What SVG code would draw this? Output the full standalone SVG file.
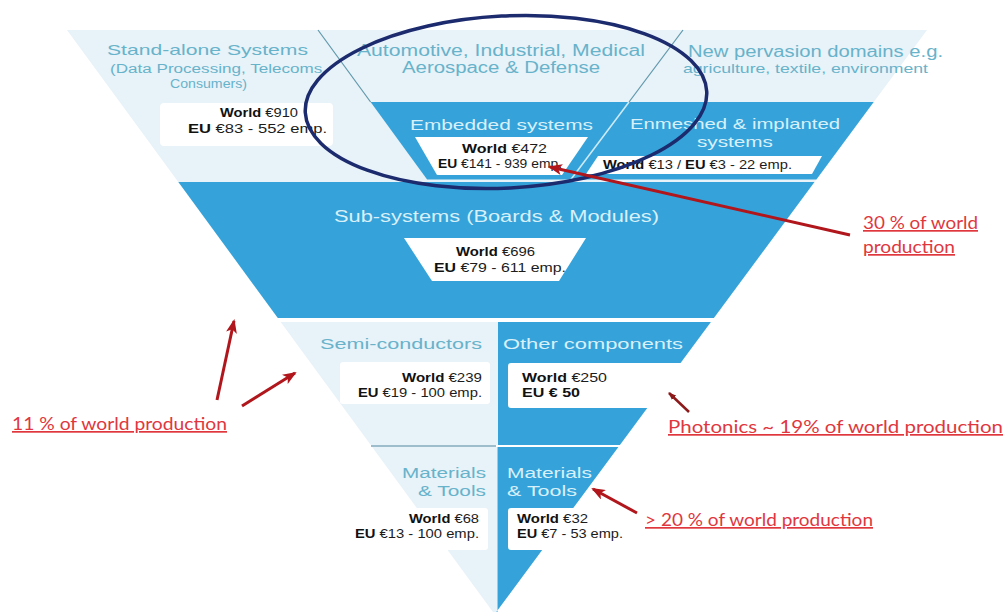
<svg xmlns="http://www.w3.org/2000/svg" width="1005" height="612" viewBox="0 0 1005 612">
  <defs>
    <style>
      .light { fill: #e7f2f9; }
      .blue { fill: #35a3d9; }
      .box { fill: #ffffff; }
      .divider { stroke: #5f98aa; stroke-width: 1.2; fill: none; }
      .divider-inv { stroke: #cdeaf7; stroke-width: 1.6; fill: none; }
      .sep { stroke: #9dbdcd; stroke-width: 2; }
      .head { font-family: "Liberation Sans", Arial, sans-serif; fill: #68b2ca; }
      .head-inv { font-family: "Liberation Sans", Arial, sans-serif; fill: #d8f0fa; }
      .num { font-family: "Liberation Sans", Arial, sans-serif; font-size: 13px; fill: #1c1c1c; }
      .b { font-weight: 700; fill: #111; }
      .note { font-family: Lato, "Liberation Sans", sans-serif; font-size: 17px; fill: #e0373e; text-decoration: underline; }
      .arrow { stroke: #b0161b; stroke-width: 3; fill: none; }
    </style>
    <marker id="arrowhead" viewBox="0 0 14 11" refX="12" refY="5.5" markerWidth="14" markerHeight="11" markerUnits="userSpaceOnUse" orient="auto">
      <path d="M0,0 L14,5.5 L0,11 L3.5,5.5 z" fill="#b0161b"/>
    </marker>
    <marker id="tinyhead" viewBox="0 0 8 6" refX="7" refY="3" markerWidth="8" markerHeight="6" markerUnits="userSpaceOnUse" orient="auto">
      <path d="M0,0 L8,3 L0,6 z" fill="#8c1a1a"/>
    </marker>
  </defs>

  <rect width="1005" height="612" fill="#ffffff"/>

  <!-- top tier: application domains -->
  <g id="application-domains">
    <polygon class="light" points="67,30 927,30 814.5,182 178.3,182"/>
    <line class="divider" x1="318" y1="30" x2="370.6" y2="102"/>
    <line class="divider" x1="683" y1="30" x2="629" y2="102"/>
  </g>

  <g id="standalone-systems">
    <rect class="box" x="160" y="103" width="173" height="43" rx="4"/>
    <text class="head" x="107" y="55" font-size="15" textLength="201" lengthAdjust="spacingAndGlyphs">Stand-alone Systems</text>
    <text class="head" x="110" y="73" font-size="12.5" textLength="217" lengthAdjust="spacingAndGlyphs">(Data Processing, Telecoms,</text>
    <text class="head" x="170" y="88" font-size="12.5" textLength="77" lengthAdjust="spacingAndGlyphs">Consumers)</text>
    <text class="num" x="220" y="117" textLength="78" lengthAdjust="spacingAndGlyphs"><tspan class="b">World</tspan> €910</text>
    <text class="num" x="188" y="133" textLength="139" lengthAdjust="spacingAndGlyphs"><tspan class="b">EU</tspan> €83 - 552 emp.</text>
  </g>

  <g id="automotive-domain">
    <text class="head" x="357" y="56" font-size="16" textLength="288" lengthAdjust="spacingAndGlyphs">Automotive, Industrial, Medical</text>
    <text class="head" x="402" y="73" font-size="16" textLength="198" lengthAdjust="spacingAndGlyphs">Aerospace &amp; Defense</text>
  </g>

  <g id="pervasion-domain">
    <text class="head" x="688" y="57" font-size="16" textLength="255" lengthAdjust="spacingAndGlyphs">New pervasion domains e.g.</text>
    <text class="head" x="683" y="73" font-size="13" textLength="245" lengthAdjust="spacingAndGlyphs">agriculture, textile, environment</text>
  </g>

  <!-- second tier: embedded / enmeshed -->
  <g id="embedded-systems">
    <polygon class="blue" points="370.6,102 873.7,102 816.4,179.5 427.1,179.5"/>
    <line class="divider-inv" x1="629" y1="102" x2="570.5" y2="180"/>
    <polygon class="box" points="415,137 588,137 562,175 437,175"/>
    <text class="head-inv" x="410" y="130" font-size="15" textLength="183" lengthAdjust="spacingAndGlyphs">Embedded systems</text>
    <text class="num" x="462" y="153" textLength="85" lengthAdjust="spacingAndGlyphs"><tspan class="b">World</tspan> €472</text>
    <text class="num" x="438" y="168" textLength="124" lengthAdjust="spacingAndGlyphs"><tspan class="b">EU</tspan> €141 - 939 emp.</text>
  </g>

  <g id="enmeshed-systems">
    <polygon class="box" points="598,156 822,156 812,174 586,174"/>
    <text class="head-inv" x="630" y="129" font-size="15" textLength="210" lengthAdjust="spacingAndGlyphs">Enmeshed &amp; implanted</text>
    <text class="head-inv" x="697" y="147" font-size="15" textLength="76" lengthAdjust="spacingAndGlyphs">systems</text>
    <text class="num" x="603" y="169" textLength="189" lengthAdjust="spacingAndGlyphs"><tspan class="b">World</tspan> €13 / <tspan class="b">EU</tspan> €3 - 22 emp.</text>
  </g>

  <!-- third tier: sub-systems -->
  <g id="sub-systems">
    <polygon class="blue" points="178.3,182 814.5,182 713.9,318 277.8,318"/>
    <polygon class="box" points="404,238 586,238 559,281 432,281"/>
    <text class="head-inv" x="334" y="222" font-size="16" textLength="325" lengthAdjust="spacingAndGlyphs">Sub-systems (Boards &amp; Modules)</text>
    <text class="num" x="456" y="256" textLength="79" lengthAdjust="spacingAndGlyphs"><tspan class="b">World</tspan> €696</text>
    <text class="num" x="434" y="272" textLength="132" lengthAdjust="spacingAndGlyphs"><tspan class="b">EU</tspan> €79 - 611 emp.</text>
  </g>

  <!-- fourth tier: components -->
  <g id="semi-conductors">
    <polygon class="light" points="280.7,322 498,322 498,445 370.8,445"/>
    <rect class="box" x="340" y="362" width="150" height="42" rx="3"/>
    <text class="head" x="320" y="349" font-size="15" textLength="162" lengthAdjust="spacingAndGlyphs">Semi-conductors</text>
    <text class="num" x="402" y="382" textLength="80" lengthAdjust="spacingAndGlyphs"><tspan class="b">World</tspan> €239</text>
    <text class="num" x="358" y="397" textLength="124" lengthAdjust="spacingAndGlyphs"><tspan class="b">EU</tspan> €19 - 100 emp.</text>
    <line class="sep" x1="371" y1="446" x2="496" y2="446"/>
  </g>

  <g id="other-components">
    <polygon class="blue" points="498,322 710.9,322 619.9,445 498,445"/>
    <rect class="box" x="508" y="363" width="200" height="45" rx="3"/>
    <text class="head-inv" x="503" y="349" font-size="15" textLength="180" lengthAdjust="spacingAndGlyphs">Other components</text>
    <text class="num" x="522" y="382" textLength="85" lengthAdjust="spacingAndGlyphs"><tspan class="b">World</tspan>  €250</text>
    <text class="num b" x="522" y="397" textLength="58" lengthAdjust="spacingAndGlyphs">EU € 50</text>
  </g>

  <!-- bottom tier: materials & tools -->
  <g id="materials-tools-left">
    <polygon class="light" points="372.2,447 497.5,447 497.5,612 493,612"/>
    <rect class="box" x="350" y="508" width="138" height="42" rx="3"/>
    <text class="head" x="402" y="478" font-size="15.5" textLength="84" lengthAdjust="spacingAndGlyphs">Materials</text>
    <text class="head" x="418" y="496" font-size="15.5" textLength="68" lengthAdjust="spacingAndGlyphs">&amp; Tools</text>
    <text class="num" x="409" y="523" textLength="70" lengthAdjust="spacingAndGlyphs"><tspan class="b">World</tspan> €68</text>
    <text class="num" x="355" y="538" textLength="124" lengthAdjust="spacingAndGlyphs"><tspan class="b">EU</tspan> €13 - 100 emp.</text>
  </g>

  <g id="materials-tools-right">
    <polygon class="blue" points="497.5,447 618.4,447 496.3,612 497.5,612"/>
    <rect class="box" x="508" y="508" width="130" height="42" rx="3"/>
    <text class="head-inv" x="507" y="478" font-size="15.5" textLength="85" lengthAdjust="spacingAndGlyphs">Materials</text>
    <text class="head-inv" x="507" y="496" font-size="15.5" textLength="70" lengthAdjust="spacingAndGlyphs">&amp; Tools</text>
    <text class="num" x="517" y="523" textLength="71" lengthAdjust="spacingAndGlyphs"><tspan class="b">World</tspan> €32</text>
    <text class="num" x="517" y="538" textLength="106" lengthAdjust="spacingAndGlyphs"><tspan class="b">EU</tspan> €7 - 53 emp.</text>
  </g>

  <!-- highlight around the embedded domain -->
  <g id="highlight">
    <ellipse cx="506" cy="102" rx="201" ry="86" transform="rotate(-3 506 102)" fill="none" stroke="#1c2a6e" stroke-width="3.5"/>
  </g>

  <!-- annotations -->
  <g id="note-30">
    <text class="note" x="863" y="229" textLength="115" lengthAdjust="spacingAndGlyphs">30 % of world</text>
    <text class="note" x="863" y="253" textLength="92" lengthAdjust="spacingAndGlyphs">production</text>
  </g>
  <g id="note-11">
    <text class="note" x="12" y="430" textLength="215" lengthAdjust="spacingAndGlyphs">11 % of world production</text>
  </g>
  <g id="note-photonics">
    <text class="note" x="668" y="433" textLength="335" lengthAdjust="spacingAndGlyphs">Photonics ~ 19% of world production</text>
  </g>
  <g id="note-20">
    <text class="note" x="645" y="526" textLength="228" lengthAdjust="spacingAndGlyphs">&gt; 20 % of world production</text>
  </g>

  <!-- connectors -->
  <g id="connectors">
    <line class="arrow" x1="850" y1="235" x2="550" y2="167" marker-end="url(#arrowhead)"/>
    <line class="arrow" x1="217" y1="400" x2="234" y2="321" marker-end="url(#arrowhead)"/>
    <line class="arrow" x1="242" y1="406" x2="295" y2="373" marker-end="url(#arrowhead)"/>
    <line class="arrow" x1="637" y1="513" x2="593" y2="489" marker-end="url(#arrowhead)"/>
    <line x1="689" y1="412" x2="669" y2="393" stroke="#8c1a1a" stroke-width="2.5" marker-end="url(#tinyhead)"/>
  </g>
</svg>
